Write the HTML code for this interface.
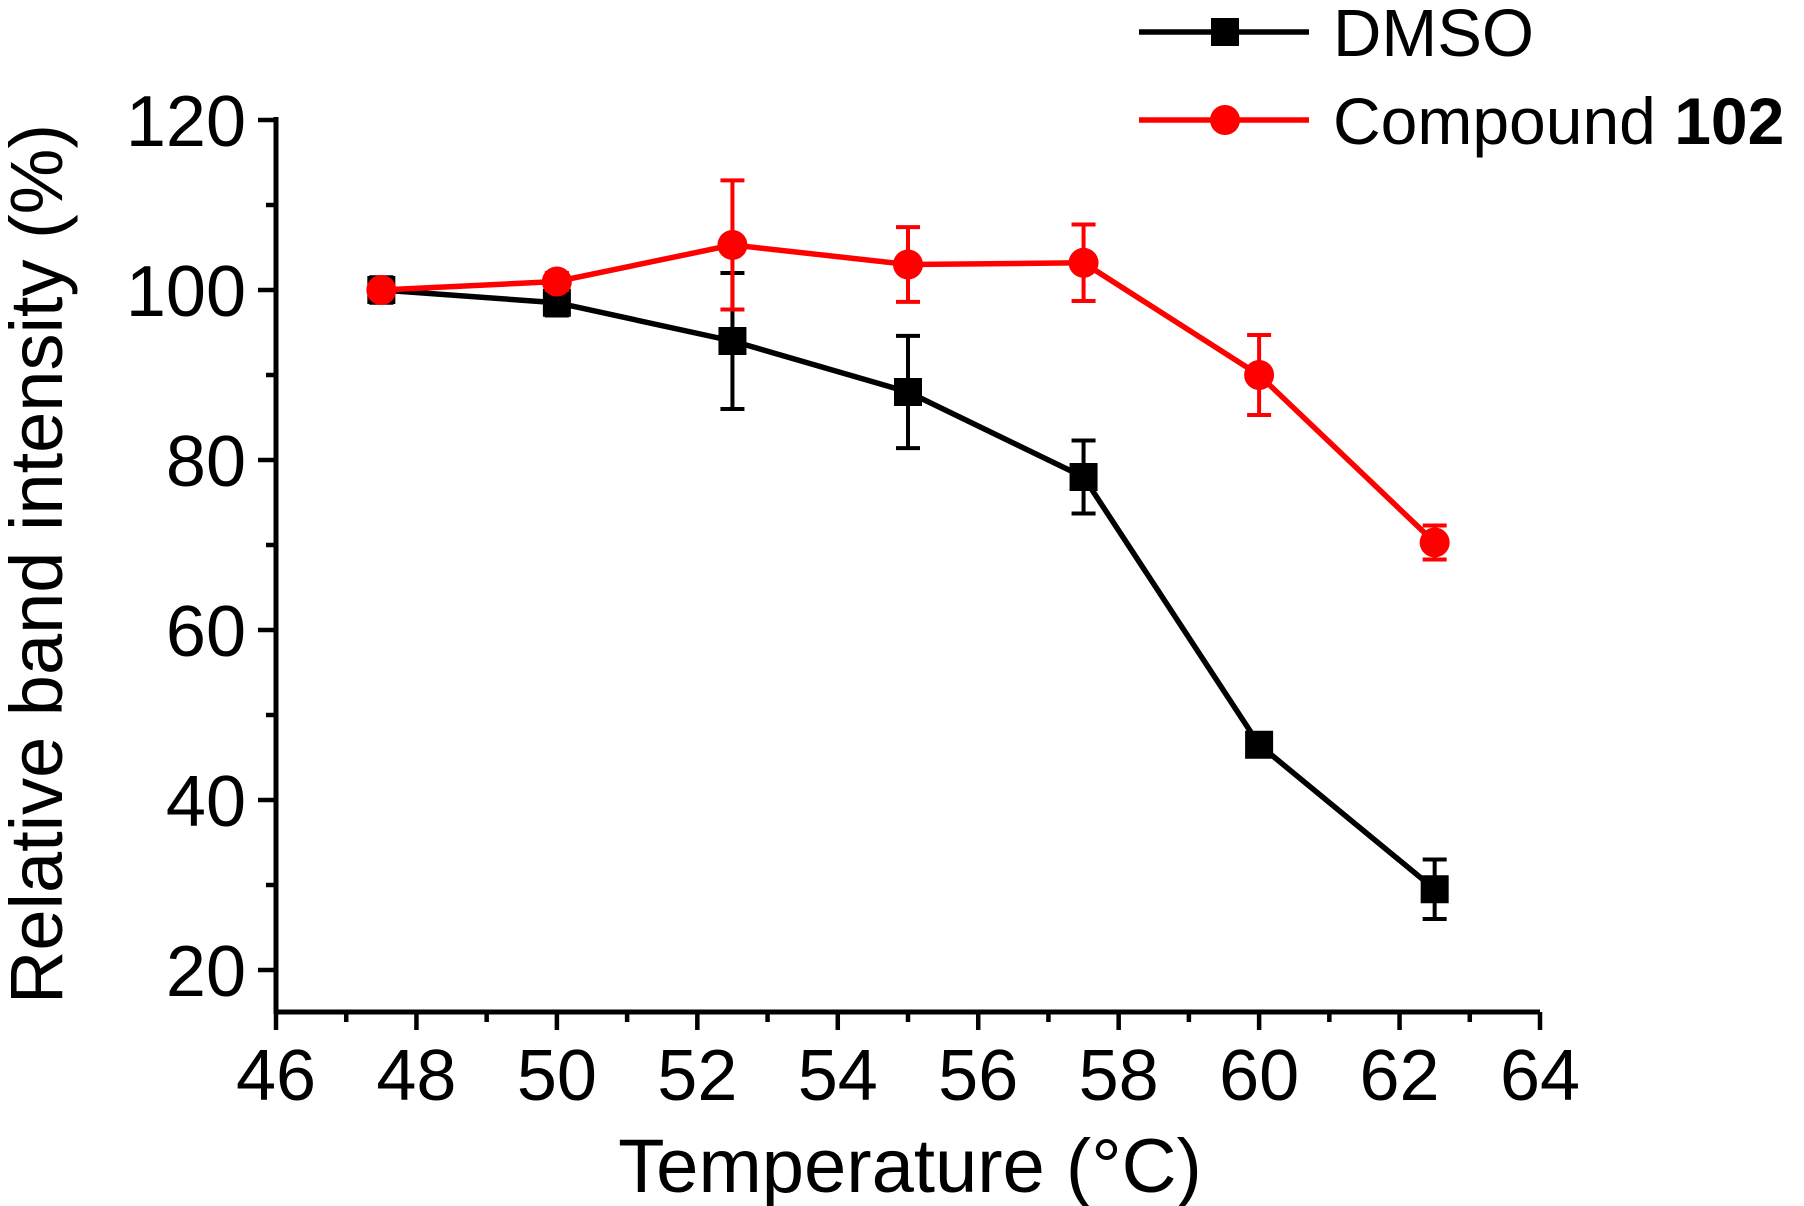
<!DOCTYPE html>
<html><head><meta charset="utf-8"><style>
html,body{margin:0;padding:0;background:#fff;}
svg{display:block;font-family:"Liberation Sans",Arial,sans-serif;}
</style></head><body>
<svg id="chart" width="1804" height="1206" viewBox="0 0 1804 1206" xmlns="http://www.w3.org/2000/svg">
<g id="axes"></g>
<g id="series"></g>
<text x="910" y="1192" font-size="76" text-anchor="middle">Temperature (°C)</text>
<text transform="translate(62,564) rotate(-90)" font-size="74" text-anchor="middle">Relative band intensity (%)</text>
<g>
<line x1="1139" y1="32" x2="1309" y2="32" stroke="#000" stroke-width="5.5"/>
<rect x="1211" y="18" width="28" height="28" fill="#000"/>
<text x="1333" y="56" font-size="67">DMSO</text>
<line x1="1139" y1="120" x2="1309" y2="120" stroke="#f00" stroke-width="5.5"/>
<circle cx="1225" cy="120" r="15" fill="#f00"/>
<text x="1333" y="144" font-size="66">Compound <tspan font-weight="bold">102</tspan></text>
</g>
</svg>
<script>
const temps=[47.5,50,52.5,55,57.5,60,62.5];
const dmso=[100,98.5,94,88,78,46.5,29.5];
const dmsoErr=[1.5,1.5,8,6.6,4.3,1.2,3.5];
const cmpd=[100,101,105.3,103,103.2,90,70.3];
const cmpdErr=[0.6,1,7.6,4.4,4.5,4.7,2];
const xTicks=[46,48,50,52,54,56,58,60,62,64];
const yTicks=[20,40,60,80,100,120];
const NS="http://www.w3.org/2000/svg";
const X=v=>276+(v-46)*(1540-276)/18;
const Y=v=>970-(v-20)*(970-120)/100;
const axisY=1012;
function mk(tag,attrs,parent){const e=document.createElementNS(NS,tag);for(const k in attrs)e.setAttribute(k,attrs[k]);parent.appendChild(e);return e;}
const ax=document.getElementById('axes');
let l=mk('line',{x1:276,y1:117,x2:276,y2:axisY+2,stroke:'#000','stroke-width':5},ax);


l=mk('line',{x1:274,y1:axisY,x2:1540,y2:axisY,stroke:'#000','stroke-width':5},ax);


for(let v=46;v<=64;v+=1){const maj=v%2===0;mk('line',{x1:X(v),y1:axisY,x2:X(v),y2:axisY+(maj?18:10),stroke:'#000','stroke-width':4.5},ax);}
xTicks.forEach(v=>{const t=mk('text',{x:X(v),y:1100,'font-size':72,'text-anchor':'middle'},ax);t.textContent=v;

});
for(let v=20;v<=120;v+=10){const maj=v%20===0;mk('line',{x1:276,y1:Y(v),x2:276-(maj?18:10),y2:Y(v),stroke:'#000','stroke-width':4.5},ax);}
yTicks.forEach(v=>{const t=mk('text',{x:246,y:Y(v)+26,'font-size':72,'text-anchor':'end'},ax);t.textContent=v;

});
const sg=document.getElementById('series');
function draw(vals,errs,color,shape,name){
  const g=mk('g',{},sg);
  
  
  mk('polyline',{points:temps.map((t,i)=>X(t)+','+Y(vals[i])).join(' '),fill:'none',stroke:color,'stroke-width':5.5},g);
  temps.forEach((t,i)=>{
    const x=X(t),y1=Y(vals[i]+errs[i]),y2=Y(vals[i]-errs[i]);
    mk('line',{x1:x,y1:y1,x2:x,y2:y2,stroke:color,'stroke-width':4},g);
    mk('line',{x1:x-12,y1:y1,x2:x+12,y2:y1,stroke:color,'stroke-width':4},g);
    mk('line',{x1:x-12,y1:y2,x2:x+12,y2:y2,stroke:color,'stroke-width':4},g);
    let m;
    if(shape==='sq') m=mk('rect',{x:x-14,y:Y(vals[i])-14,width:28,height:28,fill:color},g);
    else m=mk('circle',{cx:x,cy:Y(vals[i]),r:15,fill:color},g);
    
    
  });
}
draw(dmso,dmsoErr,'#000','sq','dmso');
draw(cmpd,cmpdErr,'#f00','ci','compound-102');
</script>
</body></html>
